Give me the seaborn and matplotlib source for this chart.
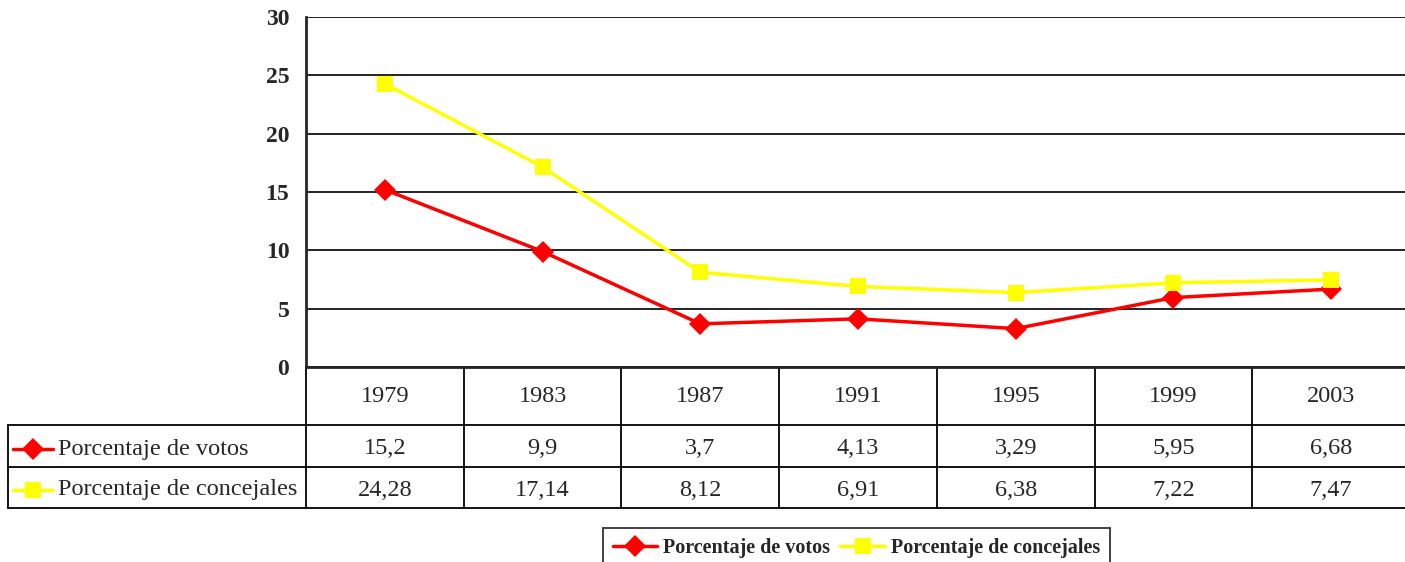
import numpy as np
import pandas as pd
import matplotlib
matplotlib.use("Agg")
import matplotlib.pyplot as plt
import seaborn as sns
from matplotlib.lines import Line2D

years = ["1979", "1983", "1987", "1991", "1995", "1999", "2003"]
votos = [15.2, 9.9, 3.7, 4.13, 3.29, 5.95, 6.68]
concejales = [24.28, 17.14, 8.12, 6.91, 6.38, 7.22, 7.47]
votos_txt = ["15,2", "9,9", "3,7", "4,13", "3,29", "5,95", "6,68"]
concejales_txt = ["24,28", "17,14", "8,12", "6,91", "6,38", "7,22", "7,47"]
series_names = ["Porcentaje de votos", "Porcentaje de concejales"]

sns.set_style("white")
plt.rcParams["font.family"] = ["Liberation Serif", "DejaVu Serif"]

df = pd.DataFrame({
    "pos": list(range(len(years))) * 2,
    "valor": votos + concejales,
    "serie": [series_names[0]] * len(years) + [series_names[1]] * len(years),
})

W, H = 1405, 562
fig = plt.figure(figsize=(W / 100, H / 100), dpi=100)
x0, x1, y0, y1 = 306, 1410, 367, 17
ax = fig.add_axes([x0 / W, 1 - y0 / H, (x1 - x0) / W, (y0 - y1) / H])

colors = {series_names[0]: "#ff0000", series_names[1]: "#ffff00"}
markers = {series_names[0]: "D", series_names[1]: "s"}
sns.lineplot(data=df, x="pos", y="valor", hue="serie", style="serie",
             palette=colors, markers=markers, dashes=False, linewidth=2.5,
             markersize=11, markeredgewidth=0, ax=ax, legend=False, zorder=3)

ax.set_xlim(-0.5, len(years) - 0.5)
ax.set_ylim(0, 30)
ax.set_yticks(range(0, 31, 5))
ax.set_xticks([])
ax.set_xlabel("")
ax.set_ylabel("")
for t in ax.get_yticklabels():
    t.set_fontweight("bold")
    t.set_fontsize(17)
ax.tick_params(axis="y", direction="out", length=8, width=1.5, color="black", pad=4)
ax.yaxis.grid(True, color="black", linewidth=1.2)
ax.set_axisbelow(True)
for s in ["top", "right"]:
    ax.spines[s].set_visible(False)
ax.spines["left"].set_linewidth(2)
ax.spines["bottom"].set_linewidth(2)

# data table below the plot
px = 1 / (x1 - x0)
def fx(p):
    return (p - x0) * px

def fy(p):
    return (y0 - p) / (y0 - y1)

lw = 1.3
trans = ax.transAxes
col_edges = [x0 + i * (x1 - x0) / len(years) for i in range(len(years) + 1)]
for e in col_edges:
    ax.add_line(Line2D([fx(e), fx(e)], [fy(367), fy(508)], color="black", lw=lw, transform=trans, clip_on=False))
ax.add_line(Line2D([fx(8), fx(8)], [fy(425), fy(508)], color="black", lw=lw, transform=trans, clip_on=False))
for yy in [425, 467, 508]:
    ax.add_line(Line2D([fx(8), fx(x1)], [fy(yy), fy(yy)], color="black", lw=lw, transform=trans, clip_on=False))

centers = [x0 + (i + 0.5) * (x1 - x0) / len(years) for i in range(len(years))]
for i, c in enumerate(centers):
    ax.text(fx(c), fy(397), years[i], ha="center", va="center", fontsize=17.5, transform=trans)
    ax.text(fx(c), fy(449), votos_txt[i], ha="center", va="center", fontsize=17.5, transform=trans)
    ax.text(fx(c), fy(490), concejales_txt[i], ha="center", va="center", fontsize=17.5, transform=trans)

for yy, name in zip([449, 490], series_names):
    ax.add_line(Line2D([fx(13), fx(53)], [fy(yy), fy(yy)], color=colors[name], lw=2.5,
                       transform=trans, clip_on=False))
    ax.add_line(Line2D([fx(33)], [fy(yy)], color=colors[name], marker=markers[name],
                       markersize=11, markeredgewidth=0, transform=trans, clip_on=False))
    ax.text(fx(58), fy(yy), name, ha="left", va="center", fontsize=17.5, transform=trans)

handles = [Line2D([], [], color=colors[n], marker=markers[n], lw=2.5, markersize=11,
                  markeredgewidth=0) for n in series_names]
leg = fig.legend(handles, series_names, loc="upper left",
                 bbox_to_anchor=(603 / W, 1 - 528 / H), ncol=2, frameon=True,
                 prop={"weight": "bold", "size": 14.5}, handlelength=2.2,
                 handletextpad=0.3, columnspacing=0.5, borderpad=0.5,
                 borderaxespad=0, fancybox=False)
leg.get_frame().set_edgecolor("black")
leg.get_frame().set_linewidth(1.3)

fig.savefig("out.png", dpi=100, facecolor="white")
